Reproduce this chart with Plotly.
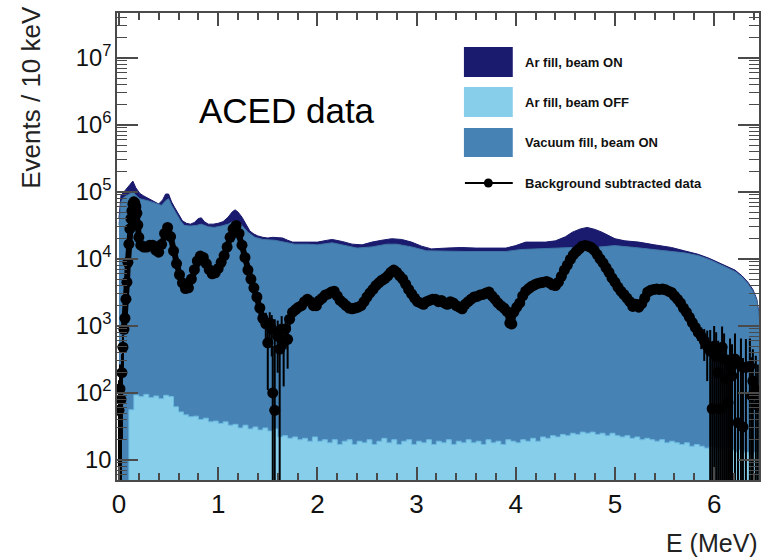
import plotly.graph_objects as go

# ---------------- data ----------------
# Ar fill, beam ON (upper envelope)
E_ar_on = [0.00, 0.02, 0.05, 0.08, 0.11, 0.14, 0.17, 0.21, 0.25, 0.30, 0.35, 0.40, 0.44, 0.47, 0.50,
           0.53, 0.56, 0.60, 0.64, 0.68, 0.72, 0.76, 0.80, 0.83, 0.86, 0.90, 0.95, 1.00, 1.05, 1.10,
           1.14, 1.17, 1.20, 1.24, 1.28, 1.32, 1.36, 1.40, 1.45, 1.50, 1.55, 1.60, 1.65, 1.70, 1.75,
           1.80, 1.90, 2.00, 2.10, 2.15, 2.25, 2.35, 2.45, 2.55, 2.65, 2.75, 2.85, 2.95, 3.05, 3.15,
           3.30, 3.45, 3.60, 3.75, 3.90, 4.00, 4.10, 4.20, 4.30, 4.40, 4.50, 4.57, 4.65, 4.72, 4.80,
           4.87, 4.95, 5.00, 5.10, 5.24, 5.40, 5.57, 5.70, 5.84, 5.95, 6.04, 6.12, 6.21, 6.28, 6.34,
           6.39, 6.43, 6.46]
N_ar_on = [40000, 89000, 100000, 112000, 126000, 145000, 115000, 95000, 87000, 79000, 72000, 66000,
           76000, 93000, 93000, 71000, 59000, 46000, 37000, 34000, 33000, 35000, 40000, 41000, 36000,
           33000, 33000, 34000, 36000, 42000, 50000, 54000, 50000, 42000, 33000, 26000, 23500, 22000,
           21000, 20500, 21000, 21000, 20500, 19000, 17800, 17800, 17800, 17800, 19000, 19500, 18200,
           16600, 16200, 17800, 19000, 20000, 19500, 17800, 15500, 14100, 14500, 14800, 14500, 14500,
           14500, 15800, 17800, 17800, 17800, 18600, 21400, 25000, 28000, 29500, 27500, 25000, 21400,
           20000, 18600, 17800, 16200, 14800, 13200, 11700, 10200, 8900, 7800, 6800, 5600, 4500,
           3500, 2500, 1260]

# Vacuum fill, beam ON
E_vac = [0.00, 0.02, 0.05, 0.08, 0.11, 0.14, 0.17, 0.21, 0.29, 0.36, 0.43, 0.47, 0.50, 0.53, 0.58,
         0.62, 0.66, 0.72, 0.78, 0.83, 0.90, 0.96, 1.03, 1.10, 1.15, 1.18, 1.22, 1.26, 1.30, 1.37,
         1.45, 1.57, 1.70, 1.77, 1.90, 2.00, 2.15, 2.25, 2.40, 2.55, 2.70, 2.80, 2.95, 3.10, 3.30,
         3.50, 3.70, 3.90, 4.05, 4.23, 4.40, 4.57, 4.72, 4.85, 5.00, 5.20, 5.40, 5.57, 5.70, 5.84,
         5.95, 6.04, 6.12, 6.21, 6.28, 6.34, 6.39, 6.43, 6.46]
N_vac = [32000, 71000, 83000, 89000, 93000, 100000, 89000, 79000, 74000, 68000, 63000, 74000, 79000,
         63000, 47000, 37000, 31600, 30900, 31600, 33000, 30200, 29500, 30900, 33000, 36300, 37000,
         34000, 29500, 25000, 21000, 19500, 19000, 17400, 16600, 16600, 16200, 17400, 16200, 14500,
         15100, 16600, 16600, 15100, 13200, 12900, 12900, 12900, 12900, 13800, 14100, 14500, 14800,
         14500, 15100, 15800, 14800, 13800, 13200, 12300, 11200, 9800, 8500, 7400, 6500, 5400, 4300,
         3300, 2400, 1200]

# Ar fill, beam OFF
E_off = [0.05, 0.10, 0.15, 0.20, 0.25, 0.30, 0.35, 0.40, 0.45, 0.50, 0.55, 0.60, 0.65, 0.70, 0.75,
         0.80, 0.85, 0.90, 0.95, 1.00, 1.05, 1.10, 1.15, 1.20, 1.25, 1.30, 1.35, 1.40, 1.45, 1.50,
         1.55, 1.60, 1.65, 1.70, 1.75, 1.80, 1.85, 1.90, 1.95, 2.00, 2.05, 2.10, 2.15, 2.20, 2.25,
         2.30, 2.35, 2.40, 2.45, 2.50, 2.55, 2.60, 2.65, 2.70, 2.75, 2.80, 2.85, 2.90, 2.95, 3.00,
         3.05, 3.10, 3.15, 3.20, 3.25, 3.30, 3.35, 3.40, 3.45, 3.50, 3.55, 3.60, 3.65, 3.70, 3.75,
         3.80, 3.85, 3.90, 3.95, 4.00, 4.05, 4.10, 4.15, 4.20, 4.25, 4.30, 4.35, 4.40, 4.45, 4.50,
         4.55, 4.60, 4.65, 4.70, 4.75, 4.80, 4.85, 4.90, 4.95, 5.00, 5.05, 5.10, 5.15, 5.20, 5.25,
         5.30, 5.35, 5.40, 5.45, 5.50, 5.55, 5.60, 5.65, 5.70, 5.75, 5.80, 5.85, 5.90, 5.95, 6.00,
         6.05, 6.10, 6.15, 6.20, 6.25, 6.30, 6.35, 6.40, 6.45]
N_off = [1, 56, 93, 88, 95, 85, 90, 82, 92, 88, 62, 52, 47, 44, 45,
         40, 42, 37, 38, 35, 37, 33, 34, 30, 33, 29, 31, 28, 30, 27,
         29, 22, 23, 21, 22, 20, 21, 19, 22, 19, 20, 18, 20, 17, 19,
         20, 17, 19, 18, 20, 17, 19, 21, 18, 20, 17, 19, 20, 17, 19,
         18, 20, 17, 19, 18, 20, 17, 19, 18, 20, 18, 19, 17, 20, 18,
         19, 17, 20, 19, 18, 20, 19, 21, 19, 22, 21, 23, 22, 24, 23,
         25, 24, 26, 25, 26, 24, 25, 23, 25, 23, 22, 23, 21, 22, 20,
         21, 20, 19, 20, 18, 19, 18, 17, 18, 16, 17, 16, 15, 16, 15,
         14, 15, 14, 13, 14, 13, 12, 13, 12]

# Background subtracted data
E_data = [0.00, 0.01, 0.02, 0.03, 0.04, 0.05, 0.06, 0.07, 0.08, 0.09, 0.10, 0.11, 0.12, 0.13, 0.14,
          0.15, 0.16, 0.17, 0.18, 0.19, 0.20, 0.22, 0.25, 0.28, 0.31, 0.34, 0.37, 0.40, 0.43, 0.46,
          0.49, 0.52, 0.55, 0.58, 0.61, 0.64, 0.67, 0.70, 0.73, 0.76, 0.79, 0.82, 0.85, 0.88, 0.91,
          0.94, 0.97, 1.00, 1.03, 1.06, 1.09, 1.12, 1.15, 1.18, 1.21, 1.24, 1.27, 1.30, 1.33, 1.36,
          1.39, 1.42, 1.45, 1.48, 1.50, 1.52, 1.54, 1.55, 1.57, 1.60, 1.62, 1.64, 1.66, 1.68, 1.70,
          1.72, 1.75, 1.78, 1.81, 1.84, 1.87, 1.90, 1.93, 1.96, 1.99, 2.02, 2.05, 2.08, 2.11, 2.14,
          2.17, 2.20, 2.23, 2.26, 2.29, 2.32, 2.35, 2.38, 2.41, 2.44, 2.47, 2.50, 2.53, 2.56, 2.59,
          2.62, 2.65, 2.68, 2.71, 2.74, 2.77, 2.80, 2.83, 2.86, 2.89, 2.92, 2.95, 2.98, 3.01, 3.04,
          3.07, 3.10, 3.13, 3.16, 3.19, 3.22, 3.25, 3.28, 3.31, 3.34, 3.37, 3.40, 3.43, 3.46, 3.49,
          3.52, 3.55, 3.58, 3.61, 3.64, 3.67, 3.70, 3.73, 3.76, 3.79, 3.82, 3.85, 3.88, 3.91, 3.94,
          3.96, 3.98, 4.01, 4.04, 4.07, 4.10, 4.13, 4.16, 4.19, 4.22, 4.25, 4.28, 4.31, 4.34, 4.37,
          4.40, 4.43, 4.46, 4.49, 4.52, 4.55, 4.58, 4.61, 4.64, 4.67, 4.70, 4.73, 4.76, 4.79, 4.82,
          4.85, 4.88, 4.91, 4.94, 4.97, 5.00, 5.03, 5.06, 5.09, 5.12, 5.15, 5.18, 5.21, 5.24, 5.27,
          5.30, 5.33, 5.36, 5.39, 5.42, 5.45, 5.48, 5.51, 5.54, 5.57, 5.60, 5.63, 5.66, 5.69, 5.72,
          5.75, 5.78, 5.81, 5.84, 5.87, 5.90, 5.93, 5.96, 5.98, 6.00, 6.02, 6.04, 6.06, 6.08, 6.10,
          6.12, 6.14, 6.16, 6.18, 6.21, 6.24, 6.27, 6.29, 6.32, 6.36, 6.38, 6.39, 6.42, 6.44]
N_data = [55, 115, 80, 200, 480, 890, 1300, 2500, 4500, 8900, 16600, 28000, 40000, 52000, 66000,
          71000, 68000, 60000, 48000, 32000, 21000, 16000, 15000, 15000, 16000, 16000, 13500, 12600, 16500, 24000,
          29500, 21500, 13200, 8500, 5800, 4400, 3600, 3700, 5000, 6900, 9300, 11000, 10500, 8500, 6900,
          6000, 6200, 7200, 8900, 11200, 15000, 21000, 28000, 31500, 24000, 16000, 10500, 6800, 5000, 3700,
          2700, 1850, 1300, 1070, 560, 1100, 900, 100, 55, 700, 450, 900, 575, 900, 630,
          1260, 1600, 1750, 1900, 2000, 2300, 2500, 2300, 2000, 2000, 2400, 2600, 2900, 3000, 3200,
          3300, 2800, 2400, 2200, 2000, 1850, 1800, 1850, 1900, 2000, 2300, 2700, 3100, 3500, 4000,
          4400, 4800, 5100, 5600, 6300, 6800, 6300, 5600, 5000, 4200, 3500, 3000, 2600, 2300, 2200,
          2100, 2300, 2400, 2500, 2500, 2300, 2400, 2200, 2100, 2300, 2200, 2000, 1900, 1800, 2100,
          2300, 2500, 2700, 2750, 2900, 2950, 3100, 3200, 2800, 2500, 2200, 2000, 1850, 1650, 1100,
          1070, 1600, 1900, 2200, 2800, 3300, 3600, 3900, 4100, 4300, 4400, 4500, 4600, 4400, 4100,
          4000, 4500, 5500, 6800, 8100, 9800, 11500, 12900, 14100, 15500, 15800, 15500, 14800, 13500, 11700,
          10000, 8700, 7400, 6300, 5200, 4500, 3800, 3300, 2950, 2600, 2300, 1950, 2100, 1900, 2150,
          2600, 3200, 3400, 3500, 3550, 3500, 3550, 3450, 3300, 3150, 2800, 2500, 2200, 1850, 1600,
          1350, 1120, 950, 800, 700, 600, 500, 420, 58, 500, 355, 200, 58, 480, 320,
          160, 72, 250, 180, 320, 36, 250, 31, 240, 250, 90, 150, 110, 65]
# statistical uncertainties that are visible in the picture (others hidden by markers)
ERR_DATA = {0.00: 100, 0.01: 150, 0.02: 120, 0.03: 180, 0.04: 250,
            1.45: 300, 1.48: 500, 1.50: 450, 1.52: 500, 1.54: 550, 1.55: 400, 1.57: 1200,
            1.60: 500, 1.62: 450, 1.64: 500, 1.66: 450, 1.68: 450, 1.70: 400, 1.72: 350,
            5.84: 200, 5.87: 250, 5.90: 300, 5.93: 350, 5.96: 450, 5.98: 450, 6.00: 500,
            6.02: 450, 6.04: 400, 6.06: 400, 6.08: 500, 6.10: 450, 6.12: 350, 6.14: 300,
            6.16: 400, 6.18: 350, 6.21: 450, 6.24: 300, 6.27: 400, 6.29: 300, 6.32: 400,
            6.36: 400, 6.38: 250, 6.39: 300, 6.42: 250, 6.44: 200}

assert len(E_ar_on) == len(N_ar_on)
assert len(E_vac) == len(N_vac)
assert len(E_off) == len(N_off)
assert len(E_data) == len(N_data)
N_err = [ERR_DATA.get(e, 0) for e in E_data]

# smooth part of the data drawn as a thick connected band (noisy parts: markers only)
E_band = [e if (0.05 <= e <= 1.45 or 1.72 <= e <= 5.96) else None for e in E_data]
N_band = [n if e is not None else None for e, n in zip(E_band, N_data)]

LEGEND_LABELS = ["Ar fill, beam ON", "Ar fill, beam OFF", "Vacuum fill, beam ON",
                 "Background subtracted data"]

# ---------------- style ----------------
NAVY = "#1a1a6e"
SKY = "#87ceeb"
STEEL = "#4682b4"
FONT = "Liberation Sans, Arial, Helvetica, sans-serif"
AXC = "#4a4a4a"

W, H = 766, 559
L, R, T, B = 117, 761, 13, 480


def pxx(v):
    return (v - L) / (R - L)


def pxy(v):
    return (B - v) / (B - T)


fig = go.Figure()
fig.add_trace(go.Scatter(x=E_ar_on, y=N_ar_on, mode="lines", fill="tozeroy",
                         fillcolor=NAVY, line=dict(color=NAVY, width=1),
                         name=LEGEND_LABELS[0], showlegend=False))
fig.add_trace(go.Scatter(x=E_vac, y=N_vac, mode="lines", fill="tozeroy",
                         fillcolor=STEEL, line=dict(color="#3f74a3", width=1),
                         name=LEGEND_LABELS[2], showlegend=False))
fig.add_trace(go.Scatter(x=E_off, y=N_off, mode="lines", fill="tozeroy",
                         fillcolor=SKY, line=dict(color="#6cbbe0", width=1, shape="hv"),
                         name=LEGEND_LABELS[1], showlegend=False))
fig.add_trace(go.Scatter(x=E_band, y=N_band, mode="lines", connectgaps=False,
                         line=dict(color="black", width=6),
                         hoverinfo="skip", showlegend=False))
fig.add_trace(go.Scatter(x=E_data, y=N_data, mode="markers",
                         marker=dict(color="black", size=11),
                         error_y=dict(type="data", array=N_err, visible=True,
                                      color="black", thickness=2, width=0),
                         name=LEGEND_LABELS[3], showlegend=False))

# custom legend (ROOT-like)
boxes = [(47, 77, NAVY), (87, 117, SKY), (128, 157, STEEL)]
for (y0, y1, col) in boxes:
    fig.add_shape(type="rect", xref="paper", yref="paper",
                  x0=pxx(465), x1=pxx(514), y0=pxy(y1), y1=pxy(y0),
                  fillcolor=col, line=dict(width=0), layer="above")
fig.add_shape(type="line", xref="paper", yref="paper",
              x0=pxx(466), x1=pxx(514), y0=pxy(183), y1=pxy(183),
              line=dict(color="black", width=2), layer="above")
fig.add_shape(type="circle", xref="paper", yref="paper",
              x0=pxx(485), x1=pxx(494), y0=pxy(187.5), y1=pxy(178.5),
              fillcolor="black", line=dict(color="black", width=0), layer="above")
for lab, yc in zip(LEGEND_LABELS, [62, 102, 142, 183]):
    fig.add_annotation(x=pxx(524), y=pxy(yc), xref="paper", yref="paper",
                       text="<b>" + lab + "</b>", showarrow=False,
                       xanchor="left", yanchor="middle",
                       font=dict(family=FONT, size=13, color="#111"))

fig.add_annotation(x=pxx(288), y=pxy(110), xref="paper", yref="paper",
                   text="ACED data", showarrow=False, xanchor="center", yanchor="middle",
                   font=dict(family=FONT, size=35, color="black"))
fig.add_annotation(x=pxx(30), y=pxy(4), xref="paper", yref="paper",
                   text="Events / 10 keV", textangle=-90, showarrow=False,
                   xanchor="center", yanchor="top",
                   font=dict(family=FONT, size=26, color="#222"))
fig.add_annotation(x=pxx(762), y=pxy(543), xref="paper", yref="paper",
                   text="E (MeV)", showarrow=False, xanchor="right", yanchor="middle",
                   font=dict(family=FONT, size=25, color="#222"))

fig.update_layout(
    width=W, height=H, autosize=False,
    margin=dict(l=L, r=W - R, t=T, b=H - B, pad=0),
    paper_bgcolor="white", plot_bgcolor="white",
    showlegend=False,
    xaxis=dict(range=[-0.02, 6.452], dtick=1, tick0=0, ticks="inside", ticklen=13,
               tickwidth=1.5, tickcolor=AXC, showline=True, linecolor=AXC, linewidth=1.5,
               mirror="ticks", showgrid=False, zeroline=False,
               tickfont=dict(family=FONT, size=26, color="#111"),
               minor=dict(ticks="inside", ticklen=7, dtick=0.2, tick0=0,
                          tickcolor=AXC, tickwidth=1.5, showgrid=False)),
    yaxis=dict(type="log", range=[0.70, 7.67], dtick=1, ticks="inside", ticklen=21,
               tickwidth=1.5, tickcolor=AXC, showline=True, linecolor=AXC, linewidth=1.5,
               mirror="ticks", showgrid=False, zeroline=False, exponentformat="power",
               tickfont=dict(family=FONT, size=19, color="#111"),
               minor=dict(ticks="inside", ticklen=10, dtick="D1",
                          tickcolor=AXC, tickwidth=1.2, showgrid=False)),
)

fig.write_html("out.html",
               config={"displayModeBar": False},
               post_script="document.body.style.margin='0px';"
                           "document.body.style.overflow='hidden';")
